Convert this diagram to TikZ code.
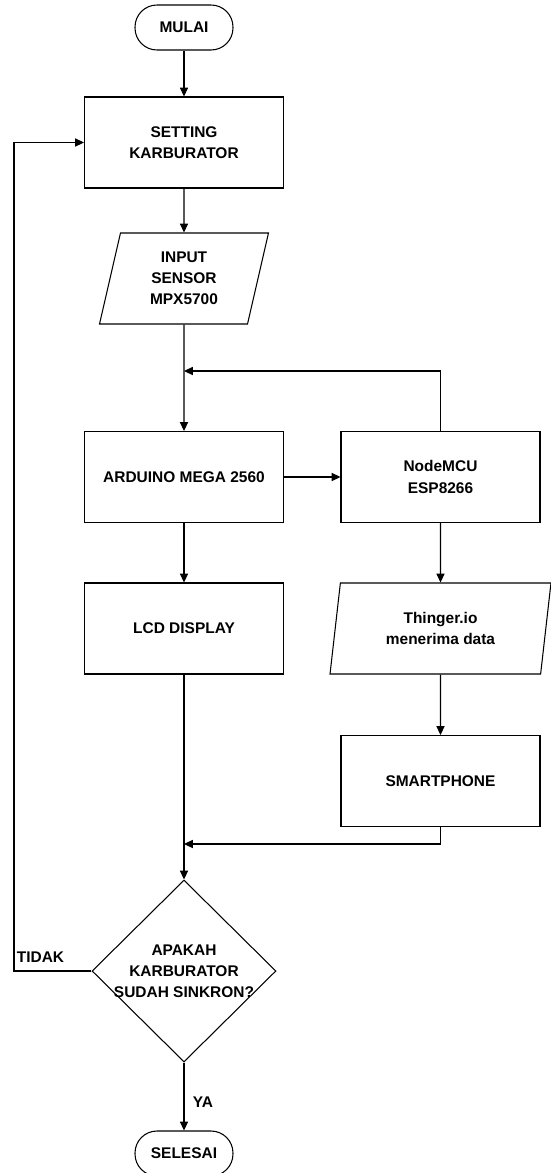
\documentclass[tikz,border=0pt]{standalone}
\usepackage{fontspec}
\setmainfont{Liberation Sans}
\usetikzlibrary{shapes.geometric,arrows.meta}

\tikzset{
  box/.style={draw, minimum width=3.98cm, minimum height=1.82cm, inner sep=0pt, align=center},
  term/.style={draw, rounded corners=0.44cm, minimum width=1.96cm, minimum height=0.9cm, inner sep=0pt},
  io/.style={draw, trapezium, trapezium stretches body=true, minimum height=1.82cm, inner sep=0pt, align=center},
  cond/.style={draw, diamond, aspect=1, minimum width=3.68cm, minimum height=3.64cm, inner sep=-20pt, align=center},
  flow/.style={-{Triangle[length=5pt,width=4.6pt]}},
}

\begin{document}
\begin{tikzpicture}[x=0.02cm, y=-0.02cm, line width=0.6pt,
  font=\fontsize{8.8}{12}\selectfont\bfseries]
  \def\Xl{184};
  \def\Xr{440.5};
  \def\Xloop{14};

  \useasboundingbox (0,0) rectangle (551,1173);

	% left column
	\node[term] (mulai) at (\Xl, 27.5) {MULAI};
	\node[box] (setting) at (\Xl, 142.5) {SETTING\\KARBURATOR};
	\node[io, minimum width=3.38cm, trapezium left angle=68.4, trapezium right angle=111.6]
	  (input) at (\Xl, 278.5) {INPUT\\SENSOR\\MPX5700};
	\node[box] (arduino) at (\Xl, 477) {ARDUINO MEGA 2560};
	\node[box] (lcd) at (\Xl, 628.5) {LCD DISPLAY};
	\node[cond] (sinkron) at (\Xl, 971) {APAKAH\\KARBURATOR\\SUDAH SINKRON?};
	\node[term] (selesai) at (\Xl, 1153.5) {SELESAI};

	% right column
	\node[box] (nodemcu) at (\Xr, 477) {NodeMCU\\ESP8266};
	\node[io, minimum width=4.42cm, trapezium left angle=72.3, trapezium right angle=107.7]
	  (thinger) at (\Xr, 628.5) {Thinger.io\\menerima data};
	\node[box] (smartphone) at (\Xr, 781) {SMARTPHONE};

	% junctions
	\coordinate (jtop) at (\Xl, 371);
	\coordinate (jbot) at (\Xl, 844);
	\coordinate (loop) at (\Xloop, 971);

	% arrows
	\draw[flow] (mulai) -- (setting);
	\draw[flow] (setting) -- (input);
	\draw[flow] (input) -- (arduino);
	\draw[flow] (nodemcu.north) |- (jtop);
	\draw[flow] (arduino) -- (nodemcu);
	\draw[flow] (arduino) -- (lcd);
	\draw[flow] (nodemcu) -- (thinger);
	\draw[flow] (thinger) -- (smartphone);
	\draw[flow] (smartphone.south) |- (jbot);
	\draw[flow] (lcd) -- (sinkron);
	\draw[flow] (sinkron.west) -- (loop) |- (setting.west);
	\draw[flow] (sinkron) -- (selesai);

	% labels
	\node (tidak) at (40.5, 957) {TIDAK};
	\node (ya) at (203, 1102) {YA};

\end{tikzpicture}
\end{document}
